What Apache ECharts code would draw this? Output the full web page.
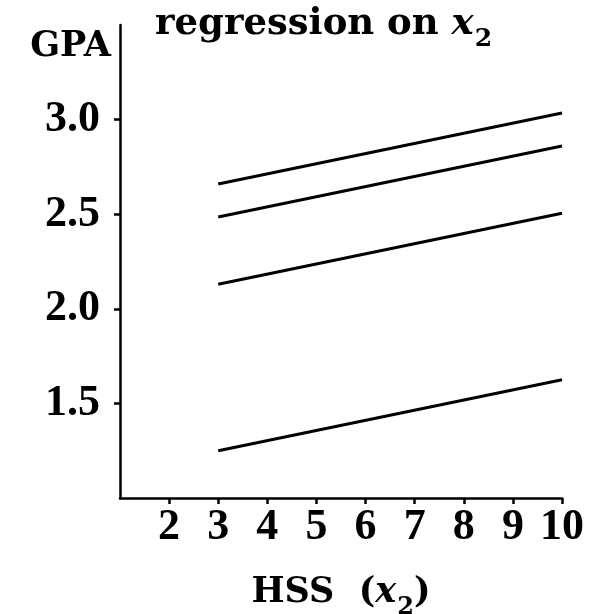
<!DOCTYPE html>
<html>
<head>
<meta charset="utf-8">
<script src="https://cdn.jsdelivr.net/npm/echarts@6/dist/echarts.min.js"></script>
<style>
html,body{margin:0;padding:0;background:#fff;}
#chart{width:596px;height:614px;}
</style>
</head>
<body>
<div id="chart"></div>
<script>
// Data
const hss = [3, 10];
const fit1 = [2.66, 3.035];
const fit2 = [2.485, 2.86];
const fit3 = [2.13, 2.505];
const fit4 = [1.25, 1.625];
const xTicks = [2, 3, 4, 5, 6, 7, 8, 9, 10];
const yTicks = [1.5, 2.0, 2.5, 3.0];

const NUMFONT = '"Liberation Serif", "DejaVu Serif", serif';
const TXTFONT = '"DejaVu Serif", "Liberation Serif", serif';

function pairs(ys) { return hss.map((x, i) => [x, ys[i]]); }

const titleRich = {
  b: { fontFamily: TXTFONT, fontWeight: 'bold', fontSize: 37, lineHeight: 40, verticalAlign: 'top', color: '#000' },
  i: { fontFamily: TXTFONT, fontWeight: 'bold', fontStyle: 'italic', fontSize: 37, lineHeight: 40, verticalAlign: 'top', color: '#000' },
  s: { fontFamily: TXTFONT, fontWeight: 'bold', fontSize: 25, lineHeight: 25, padding: [21, 0, 0, 1], verticalAlign: 'top', color: '#000' }
};
const nameRich = {
  b: { fontFamily: TXTFONT, fontWeight: 'bold', fontSize: 35, lineHeight: 40, verticalAlign: 'top', color: '#000' },
  i: { fontFamily: TXTFONT, fontWeight: 'bold', fontStyle: 'italic', fontSize: 35, lineHeight: 40, verticalAlign: 'top', color: '#000' },
  s: { fontFamily: TXTFONT, fontWeight: 'bold', fontSize: 24, lineHeight: 24, padding: [21, 0, 0, 1], verticalAlign: 'top', color: '#000' }
};

const chart = echarts.init(document.getElementById('chart'), null, { renderer: 'canvas' });
const lineStyle = { color: '#000', width: 3 };
chart.setOption({
  animation: false,
  backgroundColor: '#fff',
  title: {
    text: '{b|regression on }{i|x}{s|2}',
    left: 155,
    top: 6,
    padding: 0,
    textStyle: { rich: titleRich }
  },
  grid: { left: 120, right: 34, top: 25, bottom: 116, containLabel: false, outerBoundsMode: 'none' },
  xAxis: {
    type: 'value',
    min: 1,
    max: 10,
    interval: 1,
    splitLine: { show: false },
    axisLine: { lineStyle: { color: '#000', width: 2.5 } },
    axisTick: { show: true, length: 6, customValues: xTicks, lineStyle: { color: '#000', width: 2.5 } },
    axisLabel: {
      customValues: xTicks,
      margin: 8,
      color: '#000',
      fontFamily: NUMFONT,
      fontWeight: 'bold',
      fontSize: 44
    },
    name: '{b|HSS  (}{i|x}{s|2}{b|)}',
    nameLocation: 'middle',
    nameGap: 77,
    nameTextStyle: { rich: nameRich }
  },
  yAxis: {
    type: 'value',
    min: 1,
    max: 3.5,
    interval: 0.5,
    splitLine: { show: false },
    axisLine: { show: true, lineStyle: { color: '#000', width: 2.5 } },
    axisTick: { show: true, length: 6, customValues: yTicks, lineStyle: { color: '#000', width: 2.5 } },
    axisLabel: {
      customValues: yTicks,
      margin: 20,
      color: '#000',
      fontFamily: NUMFONT,
      fontWeight: 'bold',
      fontSize: 44,
      formatter: v => v.toFixed(1)
    },
    name: 'GPA',
    nameLocation: 'end',
    nameGap: -4,
    nameTextStyle: {
      color: '#000',
      fontFamily: TXTFONT,
      fontWeight: 'bold',
      fontSize: 35,
      align: 'right',
      verticalAlign: 'top',
      padding: [0, 9, 0, 0]
    }
  },
  series: [fit1, fit2, fit3, fit4].map(d => ({
    type: 'line',
    data: pairs(d),
    showSymbol: false,
    symbol: 'none',
    lineStyle: lineStyle,
    silent: true
  }))
});
</script>
</body>
</html>
